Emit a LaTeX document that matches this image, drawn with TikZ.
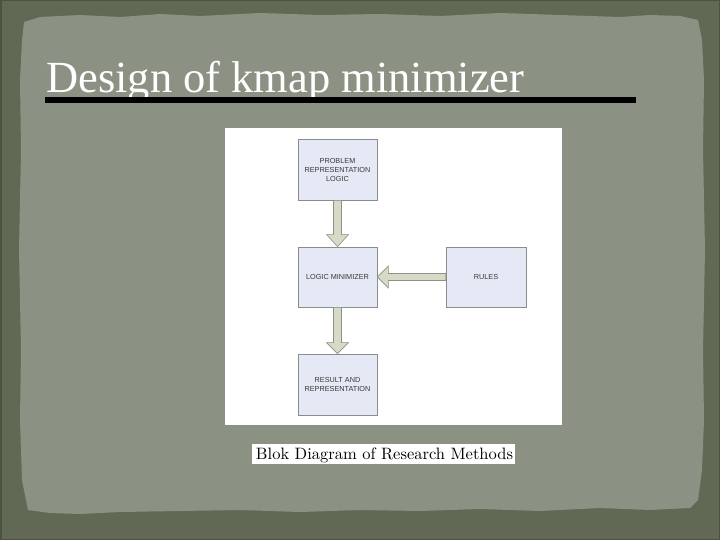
\documentclass[tikz,border=0pt]{standalone}
\usepackage{fontspec}
\setmainfont{Liberation Serif}
\newfontfamily\diagfont{Liberation Sans}
\newfontfamily\capfont{Latin Modern Roman}
\usetikzlibrary{calc}
\definecolor{framecol}{HTML}{616955}
\definecolor{edgecol}{HTML}{4A5241}
\definecolor{papercol}{HTML}{8B9183}
\definecolor{boxfill}{HTML}{E4E9F5}
\definecolor{boxline}{HTML}{8C8C8C}
\definecolor{arrowfill}{HTML}{D6DBC5}
\definecolor{arrowline}{HTML}{8E9088}
\definecolor{txtcol}{HTML}{383838}
\tikzset{
  stepbox/.style={draw=boxline, fill=boxfill, line width=0.8pt, inner sep=0pt,
    align=center, font=\diagfont\fontsize{7.3}{9}\selectfont, text=txtcol},
  blockarrow/.style={draw=arrowline, fill=arrowfill, line width=0.6pt, line join=miter}
}
\begin{document}
\begin{tikzpicture}[x=1pt,y=-1pt]
\useasboundingbox (0,0) rectangle (720,540);
% background frame
\fill[framecol] (0,0) rectangle (720,540);
\draw[edgecol, line width=3pt] (0,0) rectangle (720,540);
% torn paper
\fill[papercol] (24,22) -- (40,17) -- (80,15) -- (120,17) -- (160,14) -- (200,16) -- (260,13) -- (320,15) -- (380,14) -- (440,16) -- (500,13) -- (560,15) -- (620,17) -- (650,15) -- (680,16) -- (698,20)
 -- (702,40) -- (704,80) -- (703,150) -- (705,250) -- (703,350) -- (704,420) -- (702,470) -- (698,500) -- (690,508)
 -- (650,510) -- (600,508) -- (540,511) -- (480,509) -- (420,511) -- (360,510) -- (300,512) -- (240,510) -- (180,511) -- (120,512) -- (80,514) -- (50,513) -- (28,510)
 -- (22,480) -- (20,420) -- (21,350) -- (19,250) -- (21,150) -- (20,80) -- (22,40) -- cycle;
% title
\node[anchor=base west, inner sep=0pt, text=white, font=\fontsize{44.5}{50}\selectfont] (title) at (46,93) {Design of kmap minimizer};
\fill[black] (45,97) rectangle (636,103);
% picture area
\fill[white] (225,128) rectangle (562,425);
% boxes
\node[stepbox, minimum width=79pt, minimum height=61pt] (b1) at (337.5,169.5) {PROBLEM\\REPRESENTATION\\LOGIC};
\node[stepbox, minimum width=79pt, minimum height=60pt] (b2) at (337.5,277) {LOGIC MINIMIZER};
\node[stepbox, minimum width=80pt, minimum height=60pt] (b3) at (486,277) {RULES};
\node[stepbox, minimum width=79pt, minimum height=61pt] (b4) at (337.5,384.5) {RESULT AND\\REPRESENTATION};
% block arrows
\path[blockarrow] ($(b1.south)+(-4,0)$) -- ($(b2.north)+(-4,-12)$) -- ($(b2.north)+(-11,-12)$) -- (b2.north)
  -- ($(b2.north)+(11,-12)$) -- ($(b2.north)+(4,-12)$) -- ($(b1.south)+(4,0)$) -- cycle;
\path[blockarrow] ($(b2.south)+(-4,0)$) -- ($(b4.north)+(-4,-11)$) -- ($(b4.north)+(-11,-11)$) -- (b4.north)
  -- ($(b4.north)+(11,-11)$) -- ($(b4.north)+(4,-11)$) -- ($(b2.south)+(4,0)$) -- cycle;
\path[blockarrow] ($(b3.west)+(0,-3.5)$) -- ($(b2.east)+(11,-3.5)$) -- ($(b2.east)+(11,-11)$) -- (b2.east)
  -- ($(b2.east)+(11,11)$) -- ($(b2.east)+(11,3.5)$) -- ($(b3.west)+(0,3.5)$) -- cycle;
% caption
\fill[white] (252,444) rectangle (515,464);
\node[inner sep=0pt, text=black] (cap) at (384.5,455) {\resizebox{257pt}{!}{\capfont Blok Diagram of Research Methods}};
\end{tikzpicture}
\end{document}
